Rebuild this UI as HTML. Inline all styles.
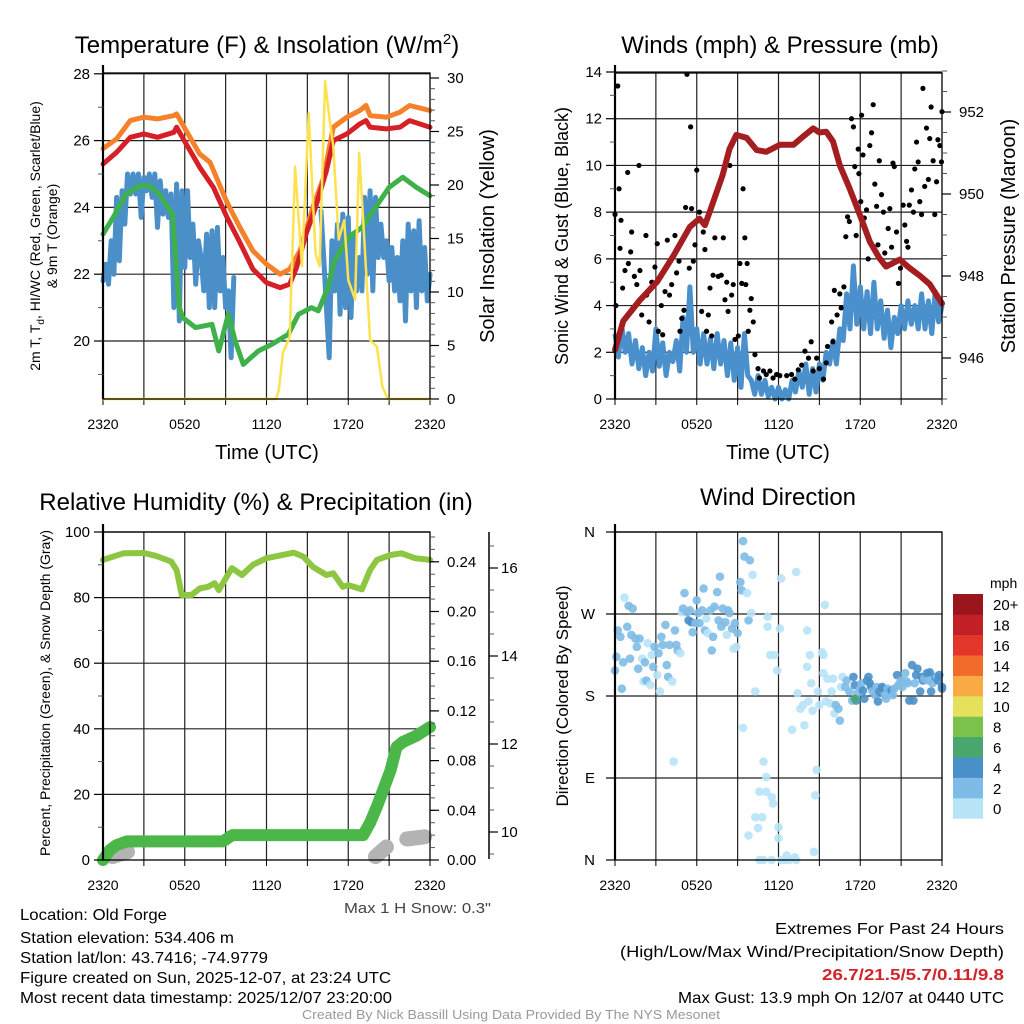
<!DOCTYPE html>
<html><head><meta charset="utf-8"><style>
html,body{margin:0;padding:0;background:#fff;}
svg{display:block;font-family:"Liberation Sans",Arial,sans-serif;}
</style></head><body>
<svg id="fig" width="1024" height="1024" viewBox="0 0 1024 1024" xmlns="http://www.w3.org/2000/svg">
<rect x="0" y="0" width="1024" height="1024" fill="#fff"/>
<text x="267" y="53" font-size="24" text-anchor="middle">Temperature (F) &amp; Insolation (W/m<tspan dy="-9" font-size="15">2</tspan><tspan dy="9">)</tspan></text>
<text x="780" y="53" font-size="24" text-anchor="middle">Winds (mph) &amp; Pressure (mb)</text>
<text x="256" y="510" font-size="24" text-anchor="middle">Relative Humidity (%) &amp; Precipitation (in)</text>
<text x="778" y="505" font-size="24" text-anchor="middle">Wind Direction</text>
<text x="267" y="459" font-size="20" text-anchor="middle">Time (UTC)</text>
<text x="778" y="459" font-size="20" text-anchor="middle">Time (UTC)</text>
<text transform="translate(40,236) rotate(-90)" font-size="14" text-anchor="middle">2m T, T<tspan dy="4" font-size="10">d</tspan><tspan dy="-4">, HI/WC (Red, Green, Scarlet/Blue)</tspan></text>
<text transform="translate(57,236) rotate(-90)" font-size="14" text-anchor="middle">&amp; 9m T (Orange)</text>
<text transform="translate(494,236) rotate(-90)" font-size="20" text-anchor="middle">Solar Insolation (Yellow)</text>
<text transform="translate(568,236) rotate(-90)" font-size="18" text-anchor="middle">Sonic Wind &amp; Gust (Blue, Black)</text>
<text transform="translate(1015,236) rotate(-90)" font-size="20" text-anchor="middle">Station Pressure (Maroon)</text>
<text transform="translate(50,693) rotate(-90)" font-size="14" text-anchor="middle">Percent, Precipitation (Green), &amp; Snow Depth (Gray)</text>
<text transform="translate(568,696) rotate(-90)" font-size="17" text-anchor="middle">Direction (Colored By Speed)</text>
<text x="990" y="588" font-size="14">mph</text>
<text x="344" y="913" font-size="15" fill="#444" textLength="147" lengthAdjust="spacingAndGlyphs">Max 1 H Snow: 0.3"</text>
<g font-size="16">
<text x="20" y="920" textLength="147" lengthAdjust="spacingAndGlyphs">Location: Old Forge</text>
<text x="20" y="943" textLength="214" lengthAdjust="spacingAndGlyphs">Station elevation: 534.406 m</text>
<text x="20" y="963" textLength="248" lengthAdjust="spacingAndGlyphs">Station lat/lon: 43.7416; -74.9779</text>
<text x="20" y="983" textLength="371" lengthAdjust="spacingAndGlyphs">Figure created on Sun, 2025-12-07, at 23:24 UTC</text>
<text x="20" y="1003" textLength="372" lengthAdjust="spacingAndGlyphs">Most recent data timestamp: 2025/12/07 23:20:00</text>
</g>
<g font-size="16">
<text x="775" y="934" textLength="229" lengthAdjust="spacingAndGlyphs">Extremes For Past 24 Hours</text>
<text x="620" y="957" textLength="384" lengthAdjust="spacingAndGlyphs">(High/Low/Max Wind/Precipitation/Snow Depth)</text>
<text x="822" y="980" font-weight="bold" fill="#d2232a" textLength="182" lengthAdjust="spacingAndGlyphs">26.7/21.5/5.7/0.11/9.8</text>
<text x="678" y="1003" textLength="326" lengthAdjust="spacingAndGlyphs">Max Gust: 13.9 mph On 12/07 at 0440 UTC</text>
</g>
<text x="302" y="1019" font-size="13" fill="#999" textLength="418" lengthAdjust="spacingAndGlyphs">Created By Nick Bassill Using Data Provided By The NYS Mesonet</text>
</svg>
<script>
// ---------- DATA ----------
const timeTicks = ["2320","0520","1120","1720","2320"];
// Panel 1
const orangeT = [0,1,2,3,4,5.2,5.4,6.1,7.1,7.85,9.1,10.05,11,12,13,13.7,14.45,15.4,16.2,16.9,17.9,18.85,19.3,19.6,20.8,21.8,22.5,24];
const orangeV = [25.76,26.05,26.6,26.7,26.65,26.75,26.8,26.3,25.6,25.35,24.15,23.4,22.7,22.3,22.0,22.15,22.7,24.0,24.9,26.4,26.7,26.9,27.05,26.75,26.7,26.85,27.05,26.9];
const redT = [0,1,2,3,4,5.2,5.4,6.1,7.1,8.1,9.1,10.05,11,12,13,13.7,14.2,14.9,15.6,16.4,16.9,17.9,18.85,19.3,19.6,20.8,21.8,22.5,24];
const redV = [25.3,25.65,26.1,26.2,26.1,26.25,26.4,25.9,25.2,24.6,23.7,22.95,22.15,21.75,21.6,21.7,22.2,23.2,24.0,25.1,26.0,26.2,26.5,26.6,26.4,26.35,26.4,26.6,26.4];
const greenT = [0,0.75,1.7,2.7,3.4,4.1,5.1,5.6,5.85,6.8,8.0,8.5,9.2,9.7,10.3,11.4,12.4,13.6,14.35,15.3,15.8,16.5,17.0,18.0,19.0,20.0,21.0,22.0,23.0,24];
const greenV = [23.2,23.7,24.4,24.65,24.65,24.4,23.8,21.0,20.7,20.4,20.5,19.7,20.8,20.0,19.3,19.7,19.9,20.2,20.8,21.0,20.9,21.6,22.4,23.1,23.4,24.0,24.6,24.9,24.6,24.35];
const solarT = [0,12.7,12.9,13.2,13.7,14.1,14.6,15.1,15.6,15.9,16.3,16.6,16.9,17.3,17.7,18.0,18.5,18.8,19.1,19.3,19.6,20.1,20.5,20.9,21.6,22.1,24];
const solarV = [0,0,0.8,4.3,5.8,21.7,12.4,26.7,13.6,12.4,29.7,26.4,23.6,14.9,16.7,11.1,9.3,23.0,16.7,12.1,5.5,4.9,1.2,0,0,0,0];
const blueAT0 = 0, blueAStep = 0.2;
const blueA = [21.8,22.3,21.7,23.0,22.0,24.3,22.4,24.5,23.5,25.0,24.4,25.0,24.4,25.0,23.7,24.9,24.5,25.0,24.3,25.0,23.4,24.8,23.8,24.5,23.7,24.4,21.0,24.7,20.6,24.5,22.2,24.5,22.5,23.5,21.7,23.0,22.5,21.5,23.2,21.0,23.3,21.0,23.4,21.5,22.5,21.0,21.5,19.5,21.9];
const blueBT0 = 16.0, blueBStep = 0.2;
const blueB = [23.9,22.5,21.0,19.5,23.0,21.5,23.5,20.8,23.8,21.0,23.7,20.7,23.2,21.5,22.5,21.5,24.3,22.0,24.5,21.5,24.3,22.5,23.5,22.5,23.0,21.8,22.8,21.5,22.5,21.2,23.0,20.6,23.5,21.5,23.3,21.0,23.6,21.5,22.8,21.2,22.0];
// Panel 2
const pressT = [0,0.6,1.8,3.1,4.3,5.5,6.2,6.6,6.96,7.9,8.4,8.9,9.66,10.4,11.1,12.1,13.1,13.8,14.55,15.0,15.5,16.0,16.5,17.2,17.96,18.7,19.4,19.9,20.9,21.6,22.4,23.1,24];
const pressV = [946.2,946.9,947.4,947.86,948.5,949.2,949.4,949.24,949.57,950.46,951.1,951.44,951.37,951.07,951.03,951.2,951.2,951.4,951.6,951.5,951.52,951.28,950.7,950.15,949.5,948.84,948.44,948.23,948.4,948.2,948.0,947.8,947.33];
const windT0 = 0, windStep = 0.25;
const windV = [2.8,1.8,3.1,2.0,2.8,1.5,2.5,1.3,2.2,1.0,2.0,1.2,3.0,1.4,2.4,1.0,2.0,1.6,2.5,1.2,3.5,2.0,4.8,2.0,3.0,1.5,2.8,1.5,2.6,1.3,2.8,1.5,2.5,1.0,2.4,0.8,2.2,0.5,2.8,1.0,0.8,0.2,1.0,0.2,0.8,0.1,0.5,0,0.5,0,0.4,0,0.8,0.3,1.2,0.5,1.5,0.2,1.3,0.3,1.5,0.8,2.0,1.5,2.5,1.5,3.0,2.5,4.5,3.0,5.7,3.2,4.8,3.0,4.6,2.8,5.0,3.0,4.2,2.6,3.8,2.2,3.5,2.8,4.0,3.0,4.2,3.2,4.0,3.0,4.5,3.0,4.2,2.8,4.6,3.3,4.0];
const gustT = [0,0.2,0.07,0.3,0.37,0.44,0.56,0.73,0.93,0.98,1.15,1.22,1.42,1.6,1.76,1.83,1.96,2.27,2.32,2.5,2.7,2.93,3.1,3.18,3.4,3.5,3.67,3.84,4.0,4.16,4.4,4.52,4.7,4.77,4.9,5.06,5.18,5.28,5.45,5.55,5.62,5.75,5.87,6.0,6.2,6.36,6.48,6.6,6.72,6.85,6.97,7.1,7.2,7.33,7.58,7.8,7.95,8.07,8.2,8.3,8.43,8.56,8.68,8.8,9.05,9.17,9.3,9.4,9.53,9.6,9.7,9.78,9.9,10.0,10.15,10.27,10.5,10.6,10.9,11.1,11.37,11.6,11.86,12.1,12.6,12.96,13.2,13.45,13.7,13.94,14.2,14.4,14.55,14.8,15.0,15.3,15.5,15.6,15.9,16.0,16.1,16.3,16.5,16.6,16.8,16.94,17.07,17.2,17.36,17.5,17.6,17.7,17.85,17.9,18.04,18.1,18.2,18.3,18.46,18.58,18.7,18.83,18.95,19.07,19.2,19.3,19.4,19.56,19.7,19.8,19.93,20.05,20.17,20.3,20.4,20.5,20.66,20.8,20.95,21.15,21.27,21.4,21.5,21.6,21.76,21.9,22.0,22.13,22.25,22.37,22.5,22.6,22.73,22.86,23.0,23.1,23.2,23.35,23.47,23.6,23.7,23.84,23.96,24];
const gustV = [7.9,13.4,4.0,9.0,6.45,7.65,4.75,5.5,9.7,5.8,6.3,7.15,5.25,4.9,10.0,5.5,3.6,7.0,4.45,3.3,5.0,5.65,6.65,2.9,4.0,2.75,4.6,6.8,4.45,4.9,7.0,5.4,5.9,2.9,3.45,3.8,8.2,13.9,5.6,11.65,8.15,5.9,6.6,9.8,8.0,3.75,7.15,6.4,2.9,3.6,4.75,2.7,5.3,6.9,5.25,5.3,6.9,4.25,5.0,3.75,10.0,4.45,4.9,2.55,2.7,5.8,4.95,9.0,6.9,4.9,5.8,2.9,3.8,4.3,3.3,1.9,1.3,0.9,1.2,1.05,1.2,0.9,1.05,1.0,1.0,1.05,0.85,1.25,1.45,2.05,1.75,2.45,1.2,1.75,1.3,0.85,1.55,2.25,3.3,2.45,4.65,3.6,4.5,3.9,4.8,6.95,7.8,7.6,12.0,11.65,9.95,7.0,10.7,9.65,8.45,12.15,10.45,7.75,8.1,6.0,10.85,11.4,12.6,9.2,8.25,6.6,10.2,8.75,8.0,6.25,5.75,7.3,8.15,6.5,10.1,9.95,7.15,4.95,5.6,8.3,7.45,6.75,6.5,8.3,8.95,8.0,9.85,11.0,10.15,8.45,7.9,13.3,9.1,11.6,9.4,11.15,12.5,10.2,7.9,9.3,11.1,10.85,10.15,12.3];
// Panel 3
const rhT = [0,1.5,3,3.9,5.0,5.4,5.78,6.5,7.1,7.7,8.2,8.5,9.45,10.2,11.0,12.0,14.0,14.7,15.4,16.4,16.9,17.6,18.0,19.0,19.6,20.1,21.1,21.9,22.9,24];
const rhV = [91.5,93.5,93.6,92.7,91,88.4,80.8,80.8,82.8,83.3,84.4,82.3,89,86.9,90,92,93.7,92.5,89.4,86.9,87.4,83.3,83.8,82.5,88.4,91.5,93,93.5,92,91.5];
const precipT = [0,0.5,1.0,1.75,8.8,9.5,19.1,19.6,20.1,21.1,21.55,22,23,24];
const precipV = [0,0.008,0.012,0.015,0.015,0.020,0.020,0.030,0.043,0.072,0.091,0.095,0.100,0.107];
const snowT = [0.7,1.8,null,20.0,20.8,null,22.3,23.6];
const snowV = [9.44,9.55,null,9.44,9.66,null,9.84,9.89];
// Panel 4
const dirT = [0,0.1,0.2,0.4,0.5,0.6,0.7,0.9,1.0,1.1,1.2,1.3,1.5,1.6,1.7,1.8,2.0,2.1,2.2,2.3,2.4,2.6,2.7,2.8,2.9,3.1,3.2,3.3,3.4,3.5,3.7,3.8,3.9,4.0,4.2,4.3,4.4,4.5,4.6,4.8,4.9,5.0,5.1,5.3,5.4,5.5,5.6,5.7,5.9,6.0,6.1,6.2,6.4,6.5,6.6,6.7,6.8,7.0,7.1,7.2,7.3,7.5,7.6,7.7,7.8,7.9,8.1,8.2,8.3,8.4,8.6,8.7,8.8,8.9,9.0,9.2,9.3,9.4,9.5,9.7,9.8,9.9,10.0,10.1,10.3,9.4,9.8,10.3,10.5,10.6,10.8,10.9,11.1,11.1,11.2,11.2,11.4,11.5,11.6,11.7,11.9,12.0,12.0,12.1,12.2,13.0,13.3,13.4,13.6,13.8,13.9,14.1,14.1,14.2,14.3,14.4,14.5,14.6,14.7,14.8,14.9,15.0,15.2,15.3,15.3,15.4,15.5,15.6,15.8,15.9,16.0,16.1,16.2,16.4,16.5,16.6,16.7,16.9,17.0,17.2,17.4,17.5,17.6,17.7,17.8,18.0,18.1,18.2,18.3,18.5,18.6,18.7,18.8,18.9,19.1,19.2,19.3,19.4,19.6,19.7,19.8,19.9,20.0,20.2,20.3,20.4,20.5,20.7,20.8,20.9,21.0,21.1,21.3,21.4,21.5,21.6,21.8,21.9,22.0,22.1,22.2,22.4,22.5,22.6,22.7,22.9,23.0,23.1,23.2,23.3,23.5,23.6,23.7,23.8,24.0,24.0,17.6,10.6,10.9,11.5,12.2,12.5,12.6,12.8,13.2,13.3];
const dirV = [208,223,252,245,188,217,288,256,279,221,247,276,243,234,210,243,221,196,217,197,238,192,225,212,234,203,227,185,245,236,258,214,201,236,196,108,252,236,230,227,272,276,293,272,263,274,261,250,260,285,271,260,274,298,252,265,249,274,230,245,278,294,263,311,256,276,261,247,274,271,254,232,260,234,249,305,296,350,333,293,263,329,271,313,185,145,27,47,35,75,47,108,75,91,267,256,225,69,62,225,208,36,24,254,309,143,316,183,166,170,148,252,212,174,225,194,164,9,71,99,185,170,228,205,225,280,174,199,172,185,199,161,170,166,153,190,201,190,197,185,175,201,192,175,183,188,194,186,177,197,201,194,190,185,181,190,174,185,190,188,181,177,188,183,186,181,188,203,192,194,197,190,205,196,194,175,214,175,194,203,210,185,201,197,199,205,197,206,185,194,201,201,197,203,190,188,177,0,0,0,0,0,5,0,3,0];
const dirS = [3,3,3,3,3,3,1,3,3,3,3,3,3,3,3,3,1,1,3,3,1,1,1,3,3,1,3,1,3,3,3,3,3,3,1,1,3,3,3,1,1,3,3,3,5,3,5,3,3,3,3,3,3,3,3,1,1,3,3,3,3,3,3,3,3,3,3,1,3,3,3,1,3,1,3,3,3,3,3,1,3,3,1,1,1,1,1,1,1,1,1,1,1,1,1,1,1,1,1,1,1,1,1,1,1,1,1,1,1,1,1,1,1,1,1,1,1,1,1,1,1,1,1,1,1,1,1,1,1,1,1,1,3,3,3,1,1,3,3,3,3,5,5,5,3,3,3,5,5,5,5,5,5,3,3,3,5,5,5,5,3,3,3,3,5,3,3,5,3,3,3,3,3,3,3,5,5,5,3,5,5,5,5,5,3,5,3,5,5,3,5,3,5,5,5,5,7,1,1,1,1,1,1,1,1,1];
const cbLabels = ["0","2","4","6","8","10","12","14","16","18","20+"];
const cbColors = ["#b7e3f7","#7ebbe6","#4a90c8","#47a76e","#7bc24c","#e6e15a","#f8aa45","#f26b2b","#e2362b","#c21f27","#9b161c"];

// ---------- HELPERS ----------
const NS = "http://www.w3.org/2000/svg";
const svg = document.getElementById("fig");
function mk(tag, attrs, parent){ const e=document.createElementNS(NS,tag); for(const k in attrs) e.setAttribute(k,attrs[k]); (parent||svg).appendChild(e); return e; }
function lin(d0,d1,r0,r1){ return v => r0 + (v-d0)*(r1-r0)/(d1-d0); }
function pathFrom(ts,vs,xs,ys){ let d="",pen=false; for(let i=0;i<ts.length;i++){ if(ts[i]===null||vs[i]===null){pen=false;continue;} d+=(pen?"L":"M")+xs(ts[i]).toFixed(1)+" "+ys(vs[i]).toFixed(1); pen=true;} return d; }

const panels = {
  temp:{x0:103,x1:430,y0:73,y1:399},
  wind:{x0:615,x1:942,y0:73,y1:399},
  rh:{x0:103,x1:430,y0:532,y1:860},
  dir:{x0:615,x1:942,y0:532,y1:860}
};
function frame(p, name, hVals, ys, labelY){
  const g = mk("g",{});
  
  
  const xs = lin(0,24,p.x0,p.x1);
  for(let h=3; h<24; h+=3){
    const l = mk("line",{x1:xs(h),x2:xs(h),y1:p.y0,y2:p.y1,stroke:"#222","stroke-width":1.2},g);
    
    
  }
  hVals.forEach(v=>{
    const l = mk("line",{x1:p.x0,x2:p.x1,y1:ys(v),y2:ys(v),stroke:"#222","stroke-width":1.2},g);
    
    
  });
  for(let h=0; h<=24; h+=3){
    const t = mk("line",{x1:xs(h),x2:xs(h),y1:p.y1,y2:p.y1+6,stroke:"#000","stroke-width":1},g);
    
    
  }
  timeTicks.forEach((s,i)=>{
    const t = mk("text",{x:xs(i*6),y:labelY,"font-size":14,"text-anchor":"middle"},g);
    t.textContent = s;
    
    
  });
  return {g, xs};
}
function border(p, name){
  const b = mk("rect",{x:p.x0,y:p.y0,width:p.x1-p.x0,height:p.y1-p.y0,fill:"none",stroke:"#000","stroke-width":1.3});
  
  
  const l = mk("line",{x1:p.x0,x2:p.x0,y1:p.y0-8,y2:p.y1,stroke:"#000","stroke-width":2.2});
  
  
}
function yAxis(x, ys, majors, labels, minors, side, name, extra){
  const dir = side==="left"?-1:1;
  const g = mk("g",{});
  
  
  minors.forEach(v=>{ const t=mk("line",{x1:x,x2:x+dir*5,y1:ys(v),y2:ys(v),stroke:"#555","stroke-width":1},g);
    
     });
  majors.forEach((v,i)=>{ const t=mk("line",{x1:x,x2:x+dir*9,y1:ys(v),y2:ys(v),stroke:"#000","stroke-width":1.2},g);
    
    
    const tx=mk("text",{x:x+dir*(extra||13),y:ys(v)+5,"font-size":15,"text-anchor":side==="left"?"end":"start"},g);
    tx.textContent = labels[i];
    
     });
}
function range(a,b,s){ const r=[]; for(let v=a; v<=b+1e-9; v+=s) r.push(+v.toFixed(4)); return r; }

// ---------- PANEL 1 ----------
(function(){
  const p=panels.temp;
  const yT = lin(20,28,341,73.8), yS = lin(0,30,399,78);
  const {g,xs} = frame(p,"temperature",[20,22,24,26,28],yT,429);
  const mkLine=(ts,vs,ys,col,w,nm)=>{ const e=mk("path",{d:pathFrom(ts,vs,xs,ys),fill:"none",stroke:col,"stroke-width":w,"stroke-linejoin":"round","stroke-linecap":"round"}); return e; };
  let e;
  e = mkLine(blueAT0!==null?blueA.map((v,i)=>blueAT0+i*blueAStep):[],blueA,yT,"#4a8fc8",5);
  
  
  e = mkLine(blueB.map((v,i)=>blueBT0+i*blueBStep),blueB,yT,"#4a8fc8",5);
  
  
  e = mkLine(greenT,greenV,yT,"#3fb14b",5);
  
  
  e = mkLine(orangeT,orangeV,yT,"#f5822b",5);
  
  
  e = mkLine(redT,redV,yT,"#d62027",5);
  
  
  e = mkLine(solarT,solarV,yS,"#fde250",2.5);
  
  
  border(p,"temperature");
  yAxis(p.x0,yT,[20,22,24,26,28],["20","22","24","26","28"],[19,21,23,25,27],"left","temperature-y-axis");
  yAxis(p.x1,yS,[0,5,10,15,20,25,30],["0","5","10","15","20","25","30"],range(0,30,1),"right","solar-y-axis",17);
})();

// ---------- PANEL 2 ----------
(function(){
  const p=panels.wind;
  const yW = lin(0,14,399,72), yP = lin(946,952,358,112);
  const {g,xs} = frame(p,"winds",[2,4,6,8,10,12,14],yW,429);
  let e = mk("path",{d:pathFrom(windV.map((v,i)=>windT0+i*windStep),windV,xs,yW),fill:"none",stroke:"#4a90cc","stroke-width":5,"stroke-linejoin":"round"});
  
  
  const gg = mk("g",{fill:"#000"});
  
  
  gustT.forEach((t,i)=>{ const c=mk("circle",{cx:xs(t),cy:yW(gustV[i]),r:2.6},gg);
    
     });
  e = mk("path",{d:pathFrom(pressT,pressV,xs,yP),fill:"none",stroke:"#a41d20","stroke-width":6,"stroke-linejoin":"round","stroke-linecap":"round"});
  
  
  border(p,"winds");
  yAxis(p.x0,yW,[0,2,4,6,8,10,12,14],["0","2","4","6","8","10","12","14"],[1,3,5,7,9,11,13],"left","wind-y-axis");
  yAxis(p.x1,yP,[946,948,950,952],["946","948","950","952"],range(945,953,0.5),"right","pressure-y-axis",17);
})();

// ---------- PANEL 3 ----------
(function(){
  const p=panels.rh;
  const yR = lin(0,100,860,532), yPr = lin(0,0.04,860,810.3), ySn = lin(10,12,832,744);
  const {g,xs} = frame(p,"humidity",[20,40,60,80,100],yR,890);
  let e = mk("path",{d:pathFrom(snowT,snowV,xs,ySn),fill:"none",stroke:"#b3b3b3","stroke-width":15,"stroke-linecap":"round","stroke-linejoin":"round"});
  
  
  e = mk("path",{d:pathFrom(precipT,precipV,xs,yPr),fill:"none",stroke:"#4bb748","stroke-width":12,"stroke-linecap":"round","stroke-linejoin":"round"});
  
  
  e = mk("path",{d:pathFrom(rhT,rhV,xs,yR),fill:"none",stroke:"#8dc641","stroke-width":6,"stroke-linecap":"round","stroke-linejoin":"round"});
  
  
  border(p,"humidity");
  yAxis(p.x0,yR,[0,20,40,60,80,100],["0","20","40","60","80","100"],[10,30,50,70,90],"left","humidity-y-axis");
  yAxis(p.x1,yPr,[0,0.04,0.08,0.12,0.16,0.20,0.24],["0.00","0.04","0.08","0.12","0.16","0.20","0.24"],range(0,0.26,0.01),"right","precip-y-axis",17);
  const ax = mk("line",{x1:489,x2:489,y1:532,y2:859,stroke:"#000","stroke-width":1.5});
  
  
  yAxis(489,ySn,[10,12,14,16],["10","12","14","16"],range(9.5,16.5,0.5),"right","snow-y-axis",12);
})();

// ---------- PANEL 4 ----------
(function(){
  const p=panels.dir;
  const yD = lin(0,360,860,532);
  const {g,xs} = frame(p,"direction",[90,180,270,360],yD,890);
  const colorFor = s => cbColors[Math.min(10,Math.floor(s/2))];
  const dg = mk("g",{});
  
  
  dirT.forEach((t,i)=>{ const c=mk("circle",{cx:xs(t),cy:yD(dirV[i]),r:4.3,fill:colorFor(dirS[i]),"fill-opacity":0.9},dg);
    
     });
  border(p,"direction");
  yAxis(p.x0,yD,[0,90,180,270,360],["N","E","S","W","N"],[],"left","direction-y-axis",20);
  const cb = mk("g",{});
  
  
  const bh = 20.4, top = 594;
  cbColors.forEach((c,i)=>{ const y = top + (10-i)*bh;
    const r = mk("rect",{x:953,y:y,width:30,height:bh+0.3,fill:c},cb);
    
    
    const t = mk("text",{x:993,y:y+bh/2+6,"font-size":15},cb);
    t.textContent = cbLabels[i];
    
     });
})();
</script>
</body></html>
